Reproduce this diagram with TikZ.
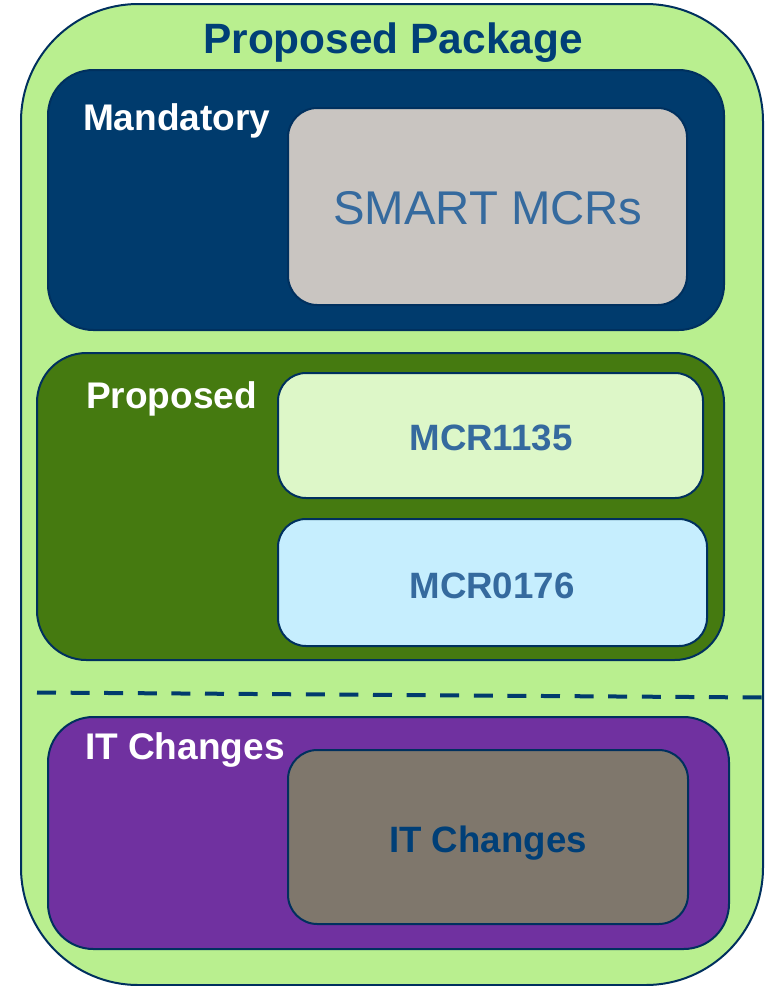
\documentclass[tikz,border=0pt]{standalone}
\usepackage{fontspec}
\setmainfont{Liberation Sans}
\usetikzlibrary{fit}
\definecolor{navy}{HTML}{00305E}
\definecolor{outergreen}{HTML}{B9EF8F}
\definecolor{mandblue}{HTML}{003B6D}
\definecolor{propgreen}{HTML}{457A10}
\definecolor{lightgreen}{HTML}{DDF7C8}
\definecolor{lightblue}{HTML}{C6EEFE}
\definecolor{purple}{HTML}{7031A0}
\definecolor{smartgray}{HTML}{C9C5C1}
\definecolor{itgray}{HTML}{7F776C}
\definecolor{textblue}{HTML}{356A9E}
\definecolor{darkblue}{HTML}{003F77}
\begin{document}
\begin{tikzpicture}[x=0.75pt,y=-0.75pt,
  box/.style={draw=navy, line width=1.5pt, inner sep=0pt, outer sep=0pt},
  lbl/.style={inner sep=0pt, outer sep=0pt, text=white, font=\fontsize{27.8}{33}\selectfont\bfseries},
  boxtext/.style={inner sep=0pt, outer sep=0pt, text=textblue, font=\fontsize{27.5}{33}\selectfont\bfseries},
  dashline/.style={draw=mandblue, line width=3pt, dash pattern=on 14.25pt off 10.95pt, dash phase=0pt}]
\useasboundingbox (0,0) rectangle (766,986);
% outer container
\node (outer) [box, fill=outergreen, rounded corners=88pt, fit={(21,4) (763,985)}] {};
\node (title) [inner sep=0pt, anchor=base, text=darkblue, font=\fontsize{31.8}{38}\selectfont\bfseries] at (393,53) {Proposed Package};
% Mandatory
\node (mand) [box, fill=mandblue, rounded corners=34pt, fit={(48,70) (724,330)}] {};
\node (mandlbl) [lbl, anchor=base west] at (83,130) {Mandatory};
\node (smart) [box, fill=smartgray, rounded corners=22pt, fit={(288,108) (687,305)}] {};
\node (smarttxt) [inner sep=0pt, anchor=base, text=textblue, font=\fontsize{35.5}{42}\selectfont] at (488,224) {SMART MCRs};
% Proposed
\node (prop) [box, fill=propgreen, rounded corners=37pt, fit={(37,353) (724,660)}] {};
\node (proplbl) [lbl, anchor=base west] at (86,408) {Proposed};
\node (m1135) [box, fill=lightgreen, rounded corners=21pt, fit={(278,373) (703,498)}] {};
\node (m1135txt) [boxtext, anchor=base] at (491,450) {MCR1135};
\node (m0176) [box, fill=lightblue, rounded corners=21pt, fit={(278,519) (707,646)}] {};
\node (m0176txt) [boxtext, anchor=base] at (492,598) {MCR0176};
% dashed separator
\coordinate (dl) at (37,692.5);
\coordinate (dr) at (763,697.5);
\draw[dashline] (dl) -- (dr);
% IT Changes
\node (it) [box, fill=purple, rounded corners=34pt, fit={(48,717) (729,949)}] {};
\node (itlbl) [lbl, anchor=base west] at (85,759) {IT Changes};
\node (itin) [box, fill=itgray, rounded corners=22pt, fit={(288,750) (688,924)}] {};
\node (itintxt) [boxtext, text=darkblue, anchor=base] at (488,852) {IT Changes};
\end{tikzpicture}
\end{document}
